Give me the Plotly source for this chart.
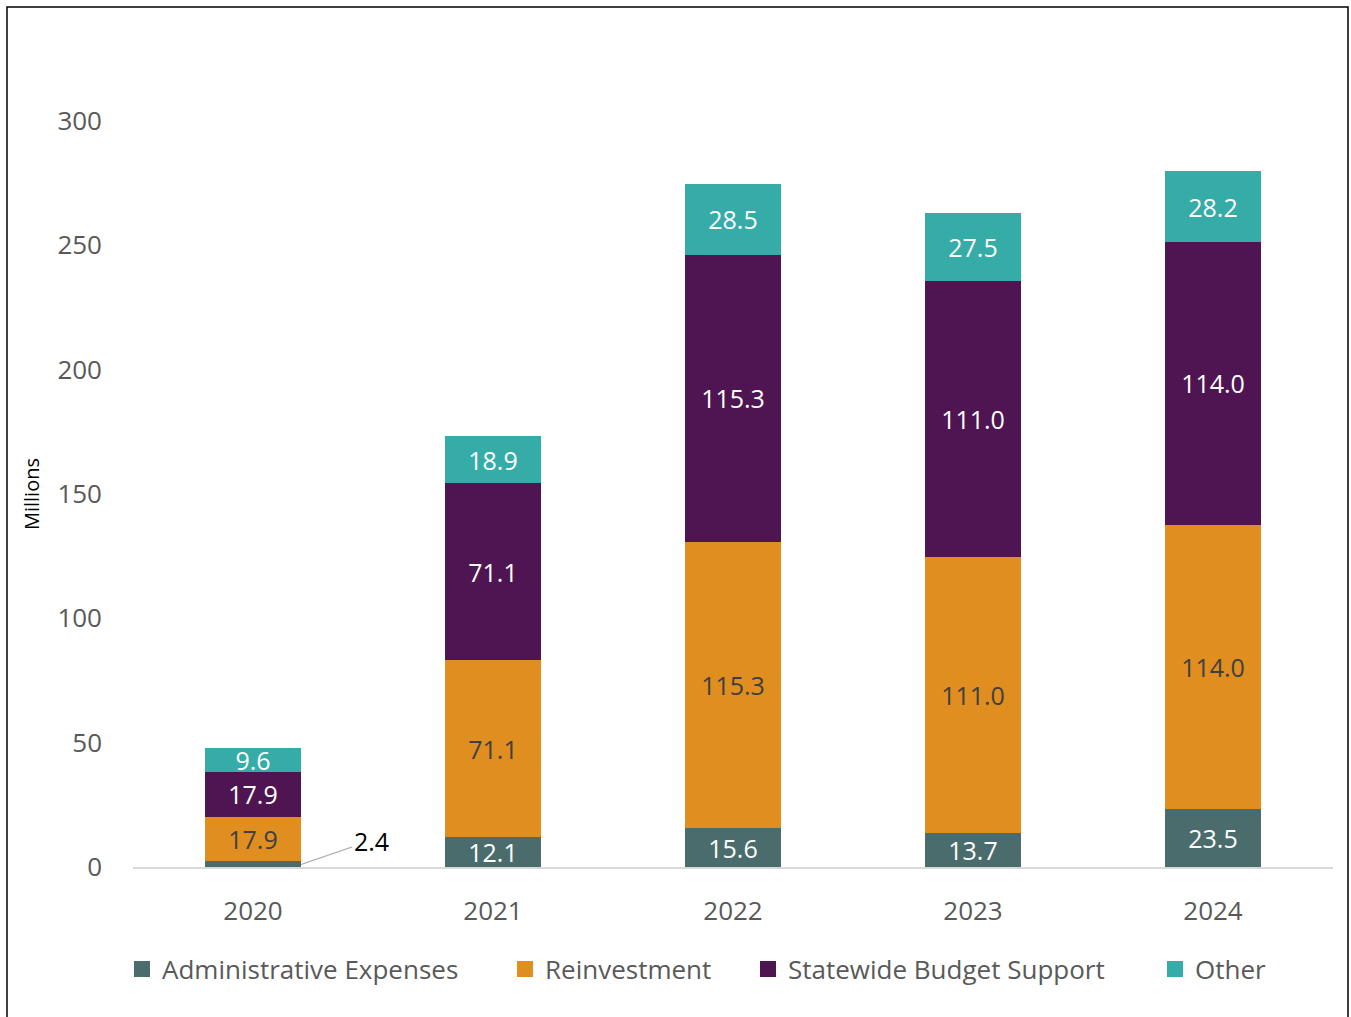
import plotly.graph_objects as go

years = ["2020", "2021", "2022", "2023", "2024"]
admin = [2.4, 12.1, 15.6, 13.7, 23.5]
reinvest = [17.9, 71.1, 115.3, 111.0, 114.0]
statewide = [17.9, 71.1, 115.3, 111.0, 114.0]
other = [9.6, 18.9, 28.5, 27.5, 28.2]

series = [
    ("Administrative Expenses", admin, "#4B6C6C", "white"),
    ("Reinvestment", reinvest, "#E08E20", "#404040"),
    ("Statewide Budget Support", statewide, "#4E1552", "white"),
    ("Other", other, "#35ACA7", "white"),
]

FONT = "Open Sans"
W, H = 1351, 1017
L, R, T, B = 133, 18, 121, 150
pw, ph = W - L - R, H - T - B
def px(x): return (x - L) / pw
def py(y): return (H - B - y) / ph

legend_left_px = [122, 505, 748, 1155]
legend_ids = ["legend", "legend2", "legend3", "legend4"]

fig = go.Figure()
for i, (name, vals, color, tcolor) in enumerate(series):
    texts = [f"{v:.1f}" for v in vals]
    if name == "Administrative Expenses":
        texts[0] = ""  # shown as callout
    fig.add_trace(go.Bar(
        name=name, x=years, y=vals, marker=dict(color=color, line=dict(width=0)),
        text=texts, textposition="inside", insidetextanchor="middle",
        textangle=0, textfont=dict(color=tcolor, size=25, family=FONT),
        hoverinfo="skip", showlegend=False, legendgroup=name,
    ))
    fig.add_trace(go.Scatter(
        name=name, x=[None], y=[None], mode="markers",
        marker=dict(symbol="square", size=18, color=color),
        legendgroup=name, showlegend=True, legend=legend_ids[i],
    ))

fig.add_annotation(
    x=0.2, y=1.0, xref="x", yref="y", text=f"{admin[0]:.1f}",
    showarrow=True, arrowhead=0, arrowwidth=1.2, arrowcolor="#A6A6A6",
    ax=70, ay=-24, font=dict(size=25, color="black", family=FONT),
)

fig.add_shape(type="rect", xref="paper", yref="paper",
              x0=px(7), x1=px(1348), y0=py(1030), y1=py(7),
              line=dict(color="black", width=1.5), fillcolor="rgba(0,0,0,0)")

legend_common = dict(orientation="h", y=py(969), yanchor="middle", xanchor="left",
                     font=dict(size=26, color="#595959", family=FONT),
                     bgcolor="rgba(0,0,0,0)", borderwidth=0)
layout_legends = {}
for lid, lx in zip(legend_ids, legend_left_px):
    layout_legends[lid] = dict(x=px(lx), **legend_common)

fig.update_layout(
    width=W, height=H, barmode="stack", bargap=0.6,
    margin=dict(l=L, r=R, t=T, b=B),
    paper_bgcolor="white", plot_bgcolor="white",
    font=dict(family=FONT, color="#595959", size=26),
    uniformtext=dict(minsize=25, mode="show"),
    showlegend=True,
    **layout_legends,
)
fig.update_yaxes(range=[0, 300], tickvals=[0, 50, 100, 150, 200, 250, 300],
                 showgrid=False, zeroline=False, showline=False,
                 ticklabelstandoff=30, tickfont=dict(size=26, color="#595959"),
                 title=dict(text="Millions", font=dict(size=20, color="black"), standoff=12))
fig.update_xaxes(showline=True, linecolor="#D9D9D9", linewidth=2, showgrid=False,
                 ticklabelstandoff=20, tickfont=dict(size=26, color="#595959"))

fig.write_html("out.html", config={"displayModeBar": False},
               post_script="document.body.style.margin='0';document.body.style.overflow='hidden';")
